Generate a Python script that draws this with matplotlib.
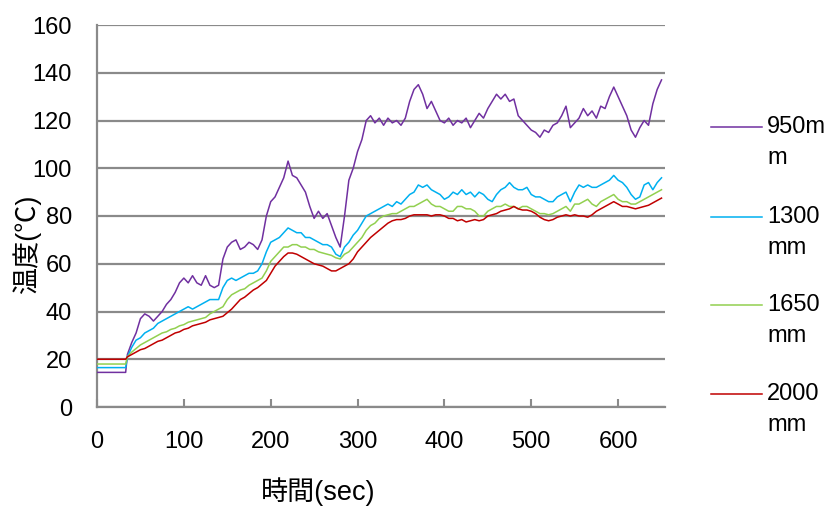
import matplotlib
matplotlib.use("Agg")
import matplotlib.pyplot as plt
from matplotlib.lines import Line2D

plt.rcParams['font.family'] = ['Liberation Sans', 'Noto Sans CJK JP', 'DejaVu Sans']

# time axis (sec)
times = [0, 33] + list(range(35, 651, 5))

series_names = ["950mm", "1300mm", "1650mm", "2000mm"]
legend_lines = [["950m", "m"], ["1300", "mm"], ["1650", "mm"], ["2000", "mm"]]
colors = ["#7030A0", "#00B0F0", "#92D050", "#C00000"]

t950 = [14.5, 14.5,
        22, 27, 31, 37, 39, 38, 36, 38, 40, 43, 45, 48, 52, 54, 52, 55, 52, 51, 55, 51,
        50, 51, 62, 67, 69, 70, 66, 67, 69, 68, 66, 70, 80, 86, 88, 92, 96, 103, 97, 96,
        93, 90, 84, 79, 82, 79, 81, 76, 71, 67, 80, 95, 100, 107, 112, 120, 122, 119, 121, 118,
        121, 119, 120, 118, 121, 128, 133, 135, 131, 125, 128, 124, 120, 119, 121, 118, 120, 119, 121, 117,
        120, 123, 121, 125, 128, 131, 129, 131, 128, 129, 122, 120, 118, 116, 115, 113, 116, 115, 118, 119,
        122, 126, 117, 119, 121, 125, 122, 124, 121, 126, 125, 130, 134, 130, 126, 122, 116, 113, 117, 120,
        118, 127, 133, 137]

t1300 = [16.5, 16.5,
         21, 25, 28, 29, 31, 32, 33, 35, 36, 37, 38, 39, 40, 41, 42, 41, 42, 43, 44, 45,
         45, 45, 50, 53, 54, 53, 54, 55, 56, 56, 57, 60, 65, 69, 70, 71, 73, 75, 74, 73,
         73, 71, 71, 70, 69, 68, 68, 67, 64, 63, 67, 69, 72, 74, 77, 80, 81, 82, 83, 84,
         85, 84, 86, 85, 87, 89, 90, 93, 92, 93, 91, 90, 89, 87, 88, 90, 89, 91, 89, 90,
         88, 90, 89, 87, 86, 89, 91, 92, 94, 92, 91, 91, 92, 89, 88, 88, 87, 86, 86, 88,
         89, 90, 86, 90, 93, 92, 93, 92, 92, 93, 94, 95, 97, 95, 94, 92, 89, 87, 88, 93,
         94, 91, 94, 96]

t1650 = [18, 18,
         21, 23, 24.5, 26, 27, 28, 29, 30, 31, 31.5, 32.5, 33, 34, 34.5, 35.5, 36, 36.5, 37, 37.5, 39,
         40, 41, 42, 45, 47, 48, 49, 49.5, 51, 52, 53, 54, 57, 61, 63, 65, 67, 67, 68, 68,
         67, 67, 66, 66, 65, 64.5, 64, 63.5, 62.5, 62, 64, 65, 67, 69, 71, 74, 76, 77, 79, 80,
         80.5, 81, 81, 82, 83, 84, 84, 85, 86, 87, 85, 84, 84, 83, 82, 82, 84, 84, 83, 83,
         82, 80, 80, 82, 83, 84, 84, 85, 84, 84, 83, 84, 84, 83, 82, 81, 81, 80.5, 81, 82,
         83, 84, 82, 85, 85, 86, 87, 85, 84, 86, 87, 88, 89, 87, 86, 86, 85, 85, 86, 87,
         88, 89, 90, 91]

t2000 = [20, 20,
         21, 22, 23, 24, 24.5, 25.5, 26.5, 27.5, 28, 29, 30, 31, 31.5, 32.5, 33, 34, 34.5, 35, 35.5, 36.5,
         37, 37.5, 38, 39.5, 41, 43, 45, 46, 47.5, 49, 50, 51.5, 53, 56, 59, 61, 63, 64.5, 64.5, 64,
         63, 62, 61, 60, 59.5, 59, 58, 57, 57, 58, 59, 60, 62, 65, 67, 69, 71, 72.5, 74, 75.5,
         77, 78, 78.5, 78.5, 79, 80, 80.5, 80.5, 80.5, 80.5, 80, 80.5, 80.5, 80, 79, 79, 78, 78.5, 77.5, 78,
         78.5, 78, 78.5, 80, 80.5, 81, 82, 82.5, 83, 84, 83, 82.5, 82.5, 82, 81, 79.5, 78.5, 78, 78.5, 79.5,
         80, 80.5, 80, 80.5, 80, 80, 79.5, 80.5, 82, 83, 84, 85, 86, 85, 84, 84, 83.5, 83, 83.5, 84,
         84.5, 85.5, 86.5, 87.5]

yticks = list(range(0, 161, 20))
xticks = list(range(0, 601, 100))

W, H = 837, 508
fig = plt.figure(figsize=(W / 100, H / 100), dpi=100)
ax = fig.add_axes([97 / W, 1 - 407 / H, (665 - 97) / W, (407 - 25) / H])

for vals, c in zip([t950, t1300, t1650, t2000], colors):
    ax.plot(times, vals, color=c, lw=1.1, zorder=3)

ax.set_xlim(0, 654)
ax.set_ylim(0, 160)
ax.set_yticks(yticks)
ax.set_xticks(xticks)
ax.yaxis.grid(True, color="#8a8a8a", lw=1.6)
ax.set_axisbelow(True)
for s in ["top", "right"]:
    ax.spines[s].set_visible(False)
for s in ["left", "bottom"]:
    ax.spines[s].set_color("#8a8a8a")
    ax.spines[s].set_linewidth(1.6)
ax.tick_params(axis="both", direction="in", colors="#8a8a8a", labelcolor="black",
               labelsize=17, pad=17, length=6, width=1.5)
ax.tick_params(axis="y", length=0, pad=18)

fig.text(318 / W, 1 - 492 / H, "時間(sec)", ha="center", va="center", fontsize=19.5)
fig.text(27 / W, 1 - 244 / H, "温度(℃)", ha="center", va="center", fontsize=19.5,
         rotation=90)

# legend (manual)
leg_y = [127, 217, 305, 394]
for lines, c, y in zip(legend_lines, colors, leg_y):
    fig.add_artist(Line2D([711 / W, 762 / W], [1 - y / H, 1 - y / H], color=c, lw=1.1,
                          transform=fig.transFigure))
    for i, txt in enumerate(lines):
        fig.text(767 / W, 1 - (y + 31 * i) / H, txt, ha="left", va="center", fontsize=17)

fig.savefig("out.png", dpi=100)
